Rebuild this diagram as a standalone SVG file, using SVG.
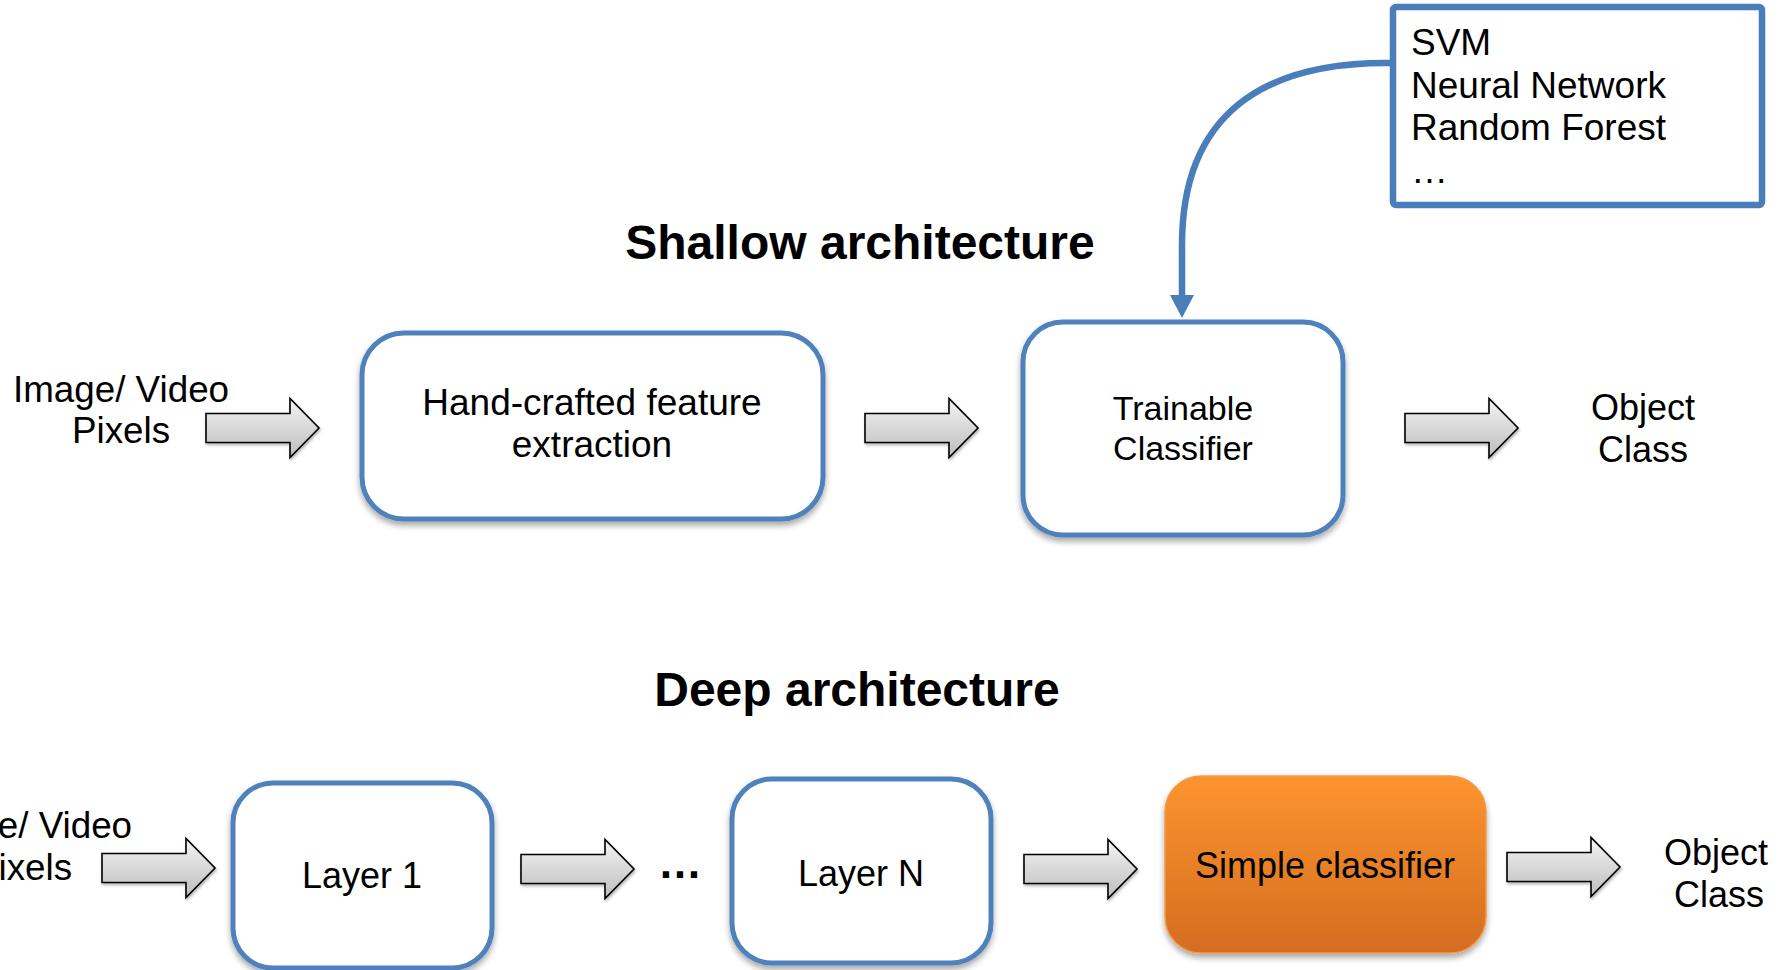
<svg xmlns="http://www.w3.org/2000/svg" width="1787" height="970" viewBox="0 0 1787 970">
  <style>
    text { font-family: "Liberation Sans", Arial, sans-serif; fill: #000; }
    .lbl { font-size: 36px; text-anchor: middle; }
    .big { font-size: 37px; text-anchor: middle; }
    .mid { font-size: 34px; text-anchor: middle; }
    .title { font-size: 48px; font-weight: bold; text-anchor: middle; }
    .list { font-size: 37px; }
    .box { fill: #fff; stroke: #4f81bd; stroke-width: 5; filter: url(#shadow); }
    .flow { fill: url(#arrowFill); stroke: #000; stroke-width: 1.6; stroke-linejoin: miter; filter: url(#shadowSmall); }
    .link { fill: none; stroke: #4a7ebb; stroke-width: 6.5; }
  </style>
  <defs>
    <linearGradient id="arrowFill" x1="0" y1="0" x2="0" y2="1">
      <stop offset="0" stop-color="#f4f4f4"/>
      <stop offset="1" stop-color="#bdbdbd"/>
    </linearGradient>
    <linearGradient id="orangeFill" x1="0" y1="0" x2="0" y2="1">
      <stop offset="0" stop-color="#fd9430"/>
      <stop offset="1" stop-color="#d46d20"/>
    </linearGradient>
    <filter id="shadow" x="-10%" y="-10%" width="120%" height="130%">
      <feGaussianBlur in="SourceAlpha" stdDeviation="3"/>
      <feOffset dx="0" dy="4" result="b"/>
      <feComponentTransfer><feFuncA type="linear" slope="0.35"/></feComponentTransfer>
      <feMerge><feMergeNode/><feMergeNode in="SourceGraphic"/></feMerge>
    </filter>
    <filter id="shadowSmall" x="-10%" y="-20%" width="130%" height="150%">
      <feGaussianBlur in="SourceAlpha" stdDeviation="1.5"/>
      <feOffset dx="1" dy="2" result="b"/>
      <feComponentTransfer><feFuncA type="linear" slope="0.3"/></feComponentTransfer>
      <feMerge><feMergeNode/><feMergeNode in="SourceGraphic"/></feMerge>
    </filter>
    <!-- block arrow, origin at the left end of its axis -->
    <path id="blockArrow" d="M0,-14.5 H84 V-29.5 L113,0 L84,29.5 V14.5 H0 Z"/>
  </defs>

  <!-- section titles -->
  <text class="title" x="860" y="259">Shallow architecture</text>
  <text class="title" x="857" y="706">Deep architecture</text>

  <!-- shallow pipeline -->
  <g id="shallow-input">
    <text class="lbl" x="121" y="402" style="font-size:36.8px">Image/ Video</text>
    <text class="lbl" x="121" y="443" style="font-size:36.8px">Pixels</text>
  </g>
  <g id="handcrafted">
    <rect class="box" x="362" y="333" width="461" height="186" rx="42"/>
    <text class="big" x="592" y="415">Hand-crafted feature</text>
    <text class="big" x="592" y="457">extraction</text>
  </g>
  <g id="trainable">
    <rect class="box" x="1023" y="322" width="320" height="213" rx="40"/>
    <text class="mid" x="1183" y="420">Trainable</text>
    <text class="mid" x="1183" y="460">Classifier</text>
  </g>
  <g id="shallow-output">
    <text class="lbl" x="1643" y="420">Object</text>
    <text class="lbl" x="1643" y="462">Class</text>
  </g>
  <g id="classifier-list">
    <rect x="1393" y="7" width="369" height="198" rx="3" fill="#fff" stroke="#4a7ebb" stroke-width="6.5"/>
    <text class="list" x="1411" y="55">SVM</text>
    <text class="list" x="1411" y="98">Neural Network</text>
    <text class="list" x="1411" y="140">Random Forest</text>
    <text class="list" x="1411" y="183">…</text>
  </g>

  <!-- deep pipeline (input label runs off the left edge) -->
  <g id="deep-input">
    <text class="lbl" x="24" y="838" style="font-size:36.8px">Image/ Video</text>
    <text class="lbl" x="23" y="880" style="font-size:36.8px">Pixels</text>
  </g>
  <g id="layer1">
    <rect class="box" x="233" y="783" width="259" height="185" rx="40"/>
    <text class="lbl" x="362" y="888">Layer 1</text>
  </g>
  <g id="ellipsis">
    <text class="lbl" x="680" y="878" style="font-weight:bold;font-size:44px">…</text>
  </g>
  <g id="layerN">
    <rect class="box" x="732" y="779" width="259" height="184" rx="40"/>
    <text class="lbl" x="861" y="886">Layer N</text>
  </g>
  <g id="simple-classifier">
    <rect x="1165" y="776" width="321" height="177" rx="36" fill="url(#orangeFill)" stroke="#f49a45" stroke-width="1.5" filter="url(#shadow)"/>
    <text class="lbl" x="1325" y="878">Simple classifier</text>
  </g>
  <g id="deep-output">
    <text class="lbl" x="1716" y="865">Object</text>
    <text class="lbl" x="1719" y="907">Class</text>
  </g>

  <!-- connectors -->
  <g id="connectors">
    <use href="#blockArrow" class="flow" transform="translate(206,428)"/>
    <use href="#blockArrow" class="flow" transform="translate(865,428)"/>
    <use href="#blockArrow" class="flow" transform="translate(1405,428)"/>
    <use href="#blockArrow" class="flow" transform="translate(102,868)"/>
    <use href="#blockArrow" class="flow" transform="translate(521,869)"/>
    <use href="#blockArrow" class="flow" transform="translate(1024,869)"/>
    <use href="#blockArrow" class="flow" transform="translate(1507,867)"/>
    <path class="link" d="M1393,63 C1262,61 1182,115 1182,245 L1182,296"/>
    <path d="M1170,295 L1194,295 L1182,318 Z" fill="#4a7ebb"/>
  </g>
</svg>
